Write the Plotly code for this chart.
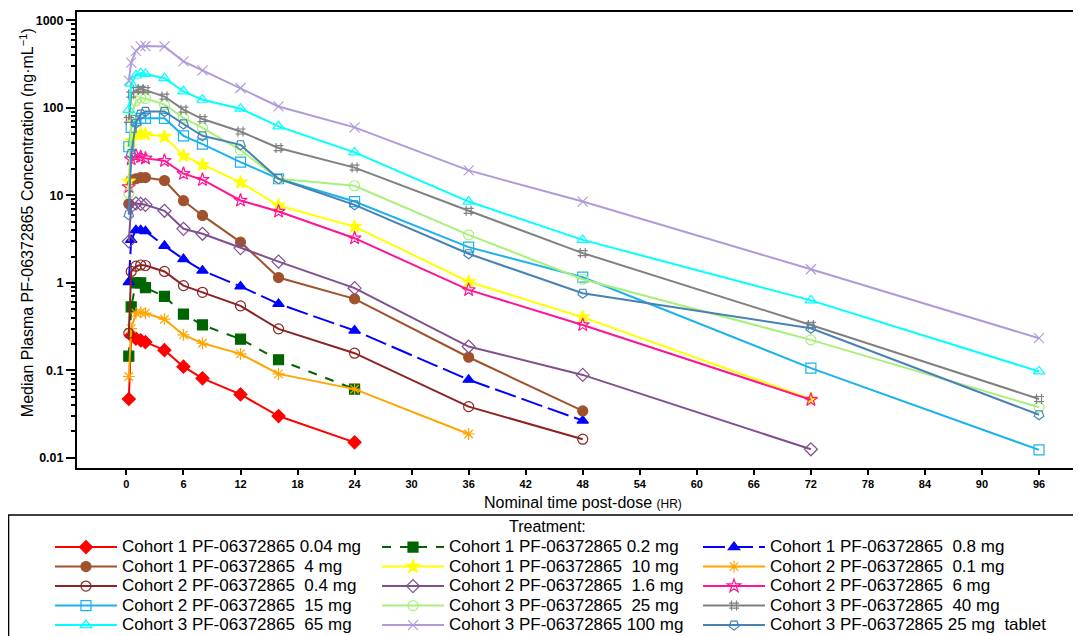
import plotly.graph_objects as go

times = [0.25, 0.5, 1, 1.5, 2, 4, 6, 8, 12, 16, 24, 36, 48, 72, 96]

names = [
    "Cohort 1 PF-06372865 0.04 mg",
    "Cohort 1 PF-06372865 0.2 mg",
    "Cohort 1 PF-06372865\u00a0 0.8 mg",
    "Cohort 1 PF-06372865\u00a0 4 mg",
    "Cohort 1 PF-06372865\u00a0 10 mg",
    "Cohort 2 PF-06372865\u00a0 0.1 mg",
    "Cohort 2 PF-06372865\u00a0 0.4 mg",
    "Cohort 2 PF-06372865\u00a0 1.6 mg",
    "Cohort 2 PF-06372865\u00a0 6 mg",
    "Cohort 2 PF-06372865\u00a0 15 mg",
    "Cohort 3 PF-06372865\u00a0 25 mg",
    "Cohort 3 PF-06372865\u00a0 40 mg",
    "Cohort 3 PF-06372865\u00a0 65 mg",
    "Cohort 3 PF-06372865 100 mg",
    "Cohort 3 PF-06372865 25 mg\u00a0 tablet",
]

c1_004 = [0.047, 0.25, 0.23, 0.22, 0.21, 0.17, 0.11, 0.081, 0.053, 0.030, 0.015]
c1_02 = [0.145, 0.53, 1.0, 1.0, 0.88, 0.70, 0.44, 0.33, 0.227, 0.132, 0.061]
c1_08 = [1.02, 3.1, 4.0, 4.0, 3.9, 2.65, 1.87, 1.38, 0.91, 0.575, 0.285, 0.078, 0.0266]
c1_4 = [8.0, 15, 15.5, 16, 16, 14.8, 8.7, 5.9, 2.92, 1.15, 0.656, 0.141, 0.0343]
c1_10 = [14.5, 42, 50, 51, 50, 47, 28.4, 22.4, 14.1, 7.66, 4.4, 1.03, 0.405, 0.047]
c2_01 = [0.085, 0.30, 0.45, 0.46, 0.45, 0.384, 0.254, 0.204, 0.154, 0.091, 0.061, 0.0187]
c2_04 = [0.265, 1.35, 1.55, 1.6, 1.58, 1.35, 0.93, 0.78, 0.545, 0.298, 0.157, 0.0384, 0.0163]
c2_16 = [2.97, 7.5, 8.1, 8.0, 7.8, 6.67, 4.15, 3.64, 2.5, 1.75, 0.87, 0.187, 0.0886, 0.0125]
c2_6 = [12.5, 26, 28.5, 27.5, 26.5, 24.9, 17.7, 15.1, 8.75, 6.55, 3.24, 0.83, 0.33, 0.046]
c2_15 = [36, 60, 72, 76, 76, 76, 48, 38.6, 24, 15.5, 8.5, 2.56, 1.16, 0.106, 0.0123]
c3_25 = [10.6, 80, 120, 130, 128, 109, 77, 59, 33, 15.5, 12.9, 3.54, 1.1, 0.223, 0.0378]
c3_40 = [73, 142, 160, 165, 160, 135, 95.5, 74.6, 53.8, 34.8, 20.8, 6.67, 2.19, 0.33, 0.047]
c3_65 = [95, 190, 235, 250, 245, 219, 155, 124, 98, 61.6, 31, 8.5, 3.1, 0.63, 0.097]
c3_100 = [205, 330, 450, 505, 510, 505, 341, 269, 169, 104, 60, 19.3, 8.5, 1.43, 0.233]
c3_25t = [6.0, 30, 67, 85, 91, 91, 65.5, 48, 37.9, 15.5, 7.8, 2.15, 0.76, 0.303, 0.031]

series = [c1_004, c1_02, c1_08, c1_4, c1_10, c2_01, c2_04, c2_16, c2_6, c2_15,
          c3_25, c3_40, c3_65, c3_100, c3_25t]

colors = ["#FF0000", "#006400", "#0000FF", "#A0522D", "#FFFF00", "#FFA500",
          "#8B2323", "#7F4F8F", "#FF1493", "#1AB2EE", "#A8F07A", "#808080",
          "#00FFFF", "#B09AD8", "#4682B4"]
symbols = ["diamond", "square", "triangle-up", "circle", "star", "asterisk-open",
           "circle-open", "diamond-open", "star-open", "square-open", "circle-open",
           "hash-open", "triangle-up-open", "x-thin-open", "pentagon-open"]
dashes = ["solid", "dash", "22px,6px", "solid", "solid", "solid", "solid", "solid",
          "solid", "solid", "solid", "solid", "solid", "solid", "solid"]
angles = [0] * 14 + [180]
legend_ids = ["legend", "legend2", "legend3"]

fig = go.Figure()
for i, (nm, vals, col, sym, dsh, ang) in enumerate(
        zip(names, series, colors, symbols, dashes, angles)):
    fig.add_trace(go.Scatter(
        x=times[:len(vals)], y=vals,
        name="<span style='font-size:17px'>" + nm + "</span>",
        mode="lines+markers",
        legend=legend_ids[i % 3],
        line=dict(color=col, width=2, dash=dsh),
        marker=dict(symbol=sym, size=10, color=col, angle=ang,
                    line=dict(color=col, width=1.2)),
    ))

def legend_at(xp):
    return dict(orientation="v", x=xp, xanchor="left", y=-0.141, yanchor="top",
                itemwidth=62, font=dict(size=12.7), traceorder="normal",
                tracegroupgap=0, borderwidth=0, bgcolor="rgba(0,0,0,0)")

fig.update_layout(
    template="none",
    width=1073, height=628,
    margin=dict(l=69, r=3, t=4, b=168, autoexpand=False),
    paper_bgcolor="white", plot_bgcolor="white",
    font=dict(family="Liberation Sans, Arial, sans-serif", color="black"),
    legend=legend_at(-0.027),
    legend2=legend_at(0.2997),
    legend3=legend_at(0.6204),
    showlegend=True,
)

fig.update_xaxes(
    range=[-5.2, 100.1], tick0=0, dtick=6, ticks="outside", ticklen=5,
    tickwidth=1.5, tickcolor="black", showline=True, linecolor="black",
    linewidth=2, mirror=True, showgrid=False, zeroline=False, automargin=False,
    tickfont=dict(family="Liberation Sans Narrow, Arial Narrow, sans-serif",
                  size=11, weight="bold"),
)
fig.update_yaxes(
    type="log", range=[-2.117, 3.097],
    tickvals=[0.01, 0.1, 1, 10, 100, 1000],
    ticktext=["0.01", "0.1", "1", "10", "100", "1000"],
    ticks="outside", ticklen=9, tickwidth=1.5, tickcolor="black",
    minor=dict(ticks="outside", ticklen=4, tickcolor="black",
               tickvals=[m * 10 ** e for e in range(-2, 3) for m in range(2, 10)]),
    showline=True, linecolor="black", linewidth=2, mirror=True,
    showgrid=False, zeroline=False, automargin=False,
    tickfont=dict(size=12.5, weight="bold"),
)

# axis titles
fig.add_annotation(text="Median Plasma PF-06372865 Concentration (ng\u00b7mL<sup>\u22121</sup>)",
                   xref="paper", yref="paper", x=-0.05, y=0.539,
                   xanchor="center", yanchor="middle", textangle=-90,
                   showarrow=False, font=dict(size=16))
fig.add_annotation(text="Nominal time post-dose <span style='font-size:12px'>(HR)</span>",
                   xref="paper", yref="paper", x=0.505, y=-0.0746,
                   xanchor="center", yanchor="middle",
                   showarrow=False, font=dict(size=16))

# legend frame and title
fig.add_shape(type="rect", xref="paper", yref="paper",
              x0=-0.0684, x1=1.012, y0=-0.388, y1=-0.1031,
              line=dict(color="black", width=1.5), fillcolor="rgba(0,0,0,0)")
fig.add_annotation(text="Treatment:", xref="paper", yref="paper",
                   x=0.470, y=-0.129, xanchor="center", yanchor="middle",
                   showarrow=False, font=dict(size=16))

fig.write_html("out.html")
